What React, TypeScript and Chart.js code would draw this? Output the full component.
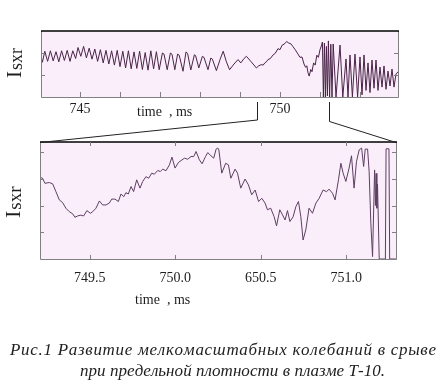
import React, { useEffect, useRef } from 'react';
import { Chart, registerables } from 'chart.js';
Chart.register(...registerables);

// ---------- data ----------
const topTime = [
  744.02, 744.06, 744.12, 744.19, 744.26, 744.33, 744.40, 744.47, 744.54, 744.61, 744.68, 744.75, 744.82, 744.89, 744.95,
  745.02, 745.09, 745.16, 745.23, 745.30, 745.37, 745.44, 745.51, 745.58, 745.65, 745.72, 745.79, 745.86, 745.93,
  746.00, 746.07, 746.14, 746.21, 746.28, 746.35, 746.42, 746.49, 746.56, 746.63, 746.70, 746.77, 746.84, 746.91, 746.98,
  747.06, 747.10, 747.18, 747.26, 747.30, 747.37, 747.44, 747.48, 747.575, 747.65, 747.69, 747.77, 747.86, 747.89, 747.97,
  748.06, 748.10, 748.20, 748.27, 748.31, 748.41, 748.50, 748.58, 748.66, 748.74, 748.85, 748.95,
  749.02, 749.10, 749.16, 749.28, 749.41, 749.47, 749.53, 749.58, 749.62, 749.66, 749.70, 749.76, 749.83, 749.88, 749.95,
  750.00, 750.05, 750.10, 750.17, 750.22, 750.27, 750.32, 750.38, 750.45, 750.50, 750.55, 750.60, 750.64, 750.67, 750.70,
  750.73, 750.77, 750.80, 750.84, 750.88, 750.92, 750.96, 751.00, 751.04, 751.06,
  751.085, 751.11, 751.135, 751.16, 751.185, 751.21, 751.24, 751.27, 751.30, 751.33, 751.40, 751.50, 751.57, 751.65,
  751.70, 751.75, 751.81, 751.875, 751.94, 752.00, 752.05, 752.10, 752.15, 752.20, 752.25, 752.30, 752.35, 752.40,
  752.45, 752.50, 752.55, 752.60, 752.65, 752.70, 752.75, 752.80, 752.85, 752.90, 752.95,
];
const topSignal = [
  1.90, 1.58, 2.08, 1.62, 2.10, 1.64, 2.06, 1.60, 2.10, 1.66, 2.12, 1.62, 2.10, 1.75, 2.25,
  1.85, 2.30, 1.78, 2.22, 1.72, 2.18, 1.62, 2.15, 1.55, 2.12, 1.50, 2.10, 1.45, 2.12,
  1.38, 2.08, 1.32, 2.10, 1.28, 2.05, 1.30, 2.08, 1.25, 2.02, 1.22, 2.10, 1.28, 2.06, 1.24,
  2.00, 1.95, 1.24, 2.00, 1.94, 1.24, 1.95, 1.90, 1.17, 2.05, 1.98, 1.23, 1.92, 1.88, 1.32,
  1.85, 1.80, 1.24, 1.77, 1.72, 1.20, 1.70, 2.08, 1.60, 1.24, 1.50, 1.70,
  1.55, 1.75, 1.85, 1.60, 1.32, 1.42, 1.47, 1.45, 1.55, 1.60, 1.70, 1.75, 1.92, 1.98, 2.20,
  2.15, 2.35, 2.40, 2.52, 2.45, 2.42, 2.30, 2.15, 1.95, 1.80, 1.82, 1.50, 1.35, 1.42, 1.10,
  0.95, 1.25, 1.15, 1.55, 1.45, 1.90, 1.80, 2.15, 2.36, 2.50,
  0.00, 2.45, 0.00, 2.30, 0.05, 2.55, 0.00, 2.40, 0.00, 2.41, 0.00, 2.36, 0.00, 1.73,
  0.00, 1.91, 0.00, 1.95, 0.00, 1.82, 0.10, 1.91, 0.30, 1.55, 0.20, 1.68, 0.40, 1.68,
  0.30, 1.36, 0.45, 1.41, 0.35, 1.18, 0.50, 1.27, 0.45, 1.05, 1.14,
];

const bottomTime = [
  749.206, 749.225, 749.239, 749.264, 749.284, 749.303, 749.323, 749.342, 749.361, 749.381, 749.401, 749.414, 749.430,
  749.449, 749.465, 749.484, 749.504, 749.518, 749.537, 749.557, 749.576, 749.595, 749.615, 749.629, 749.648, 749.668,
  749.683, 749.699, 749.712, 749.726, 749.742, 749.757, 749.775, 749.794, 749.810, 749.829, 749.845, 749.863, 749.878,
  749.898, 749.913, 749.927, 749.946, 749.966, 749.981, 749.999, 750.019, 750.034, 750.054, 750.073, 750.092, 750.108,
  750.122, 750.141, 750.157, 750.177, 750.190, 750.209, 750.225, 750.239, 750.249, 750.255, 750.272, 750.295, 750.311,
  750.325, 750.350, 750.364, 750.383, 750.408, 750.428, 750.447, 750.467, 750.487, 750.506, 750.525, 750.539, 750.558,
  750.578, 750.592, 750.611, 750.627, 750.642, 750.656, 750.670, 750.689, 750.705, 750.720, 750.734, 750.747, 750.763,
  750.782, 750.802, 750.822, 750.841, 750.864, 750.884, 750.899, 750.919, 750.934, 750.954, 750.968, 750.981, 750.997,
  751.016, 751.030, 751.045, 751.059, 751.075, 751.089, 751.101, 751.110, 751.124, 751.133, 751.143, 751.153, 751.165,
  751.170, 751.174, 751.178, 751.182, 751.192, 751.228, 751.232, 751.249, 751.253, 751.290,
];
const bottomSignal = [
  3.06, 3.02, 2.83, 2.86, 2.81, 2.52, 2.21, 2.11, 1.90, 1.77, 1.69, 1.56, 1.61,
  1.64, 1.61, 1.81, 1.71, 1.77, 1.90, 2.17, 2.02, 2.02, 2.09, 2.24, 2.24, 2.15,
  2.43, 2.33, 2.48, 2.43, 2.71, 2.52, 2.96, 2.65, 2.90, 3.08, 3.02, 3.21, 3.17,
  3.31, 3.27, 3.36, 3.30, 3.52, 3.81, 3.40, 3.61, 3.68, 3.77, 3.73, 3.83, 3.83,
  4.02, 3.71, 3.56, 3.83, 3.98, 3.86, 3.77, 4.11, 4.15, 4.08, 3.21, 3.58, 3.52,
  3.02, 3.36, 3.21, 2.65, 2.99, 2.77, 2.40, 2.58, 2.15, 2.27, 2.09, 1.84, 1.90,
  1.58, 1.24, 1.84, 1.65, 1.46, 1.81, 1.40, 1.58, 1.96, 2.15, 1.58, 0.71, 1.09,
  1.90, 1.71, 2.09, 2.27, 2.58, 2.52, 2.61, 2.46, 2.21, 2.96, 3.58, 3.21, 2.90,
  3.40, 3.86, 2.65, 3.64, 4.08, 4.15, 3.46, 4.11, 4.11, 3.27, 1.34, 0.09, 3.33,
  2.00, 3.20, 1.90, 2.80, 0.00, 0.00, 4.12, 4.12, 0.00, 0.00,
];

const topTickValues = [745, 746, 747, 748, 749, 750, 751, 752];
const topTickLabels = ['745', '', '', '', '', '750', '', ''];
const bottomTickValues = [749.5, 750.0, 750.5, 751.0];
const bottomTickLabels = ['749.5', '750.0', '650.5', '751.0'];
const topYTicks = [1, 2];
const bottomYTicks = [1, 2, 3, 4];
const zoomRange = [749.43, 751.23];
const axisTitle = 'time  , ms';
const yTitleMain = 'I';
const yTitleSub = 'sxr';
const captionLines = [
  'Рис.1 Развитие мелкомасштабных колебаний в срыве',
  'при предельной плотности в плазме Т-10.',
];

// ---------- styles ----------
const SERIF = '"Liberation Serif", "Times New Roman", serif';
const BG = '#fbeefb';
const FRAME = '#808080';
const TEXT = '#1e1e1e';

function drawFrame(ctx: CanvasRenderingContext2D, a: any) {
  ctx.save();
  ctx.lineWidth = 1;
  ctx.strokeStyle = FRAME;
  ctx.beginPath();
  ctx.moveTo(a.left + 0.5, a.top);
  ctx.lineTo(a.left + 0.5, a.bottom + 0.5);
  ctx.lineTo(a.right + 0.5, a.bottom + 0.5);
  ctx.lineTo(a.right + 0.5, a.top);
  ctx.stroke();
  ctx.strokeStyle = '#000';
  ctx.lineWidth = 1.6;
  ctx.beginPath();
  ctx.moveTo(a.left, a.top);
  ctx.lineTo(a.right + 1, a.top);
  ctx.stroke();
  ctx.restore();
}

function drawYLabel(ctx: CanvasRenderingContext2D, x: number, y: number, s1: number, s2: number) {
  ctx.save();
  ctx.translate(x, y);
  ctx.rotate(-Math.PI / 2);
  ctx.fillStyle = TEXT;
  ctx.textBaseline = 'alphabetic';
  ctx.textAlign = 'left';
  ctx.font = `${s1}px ${SERIF}`;
  ctx.fillText(yTitleMain, 0, 0);
  const w = ctx.measureText(yTitleMain).width;
  ctx.font = `${s2}px ${SERIF}`;
  ctx.fillText(yTitleSub, w + 1, 1);
  ctx.restore();
}

const topPlugin = {
  id: 'topDecor',
  beforeDraw(chart: any) {
    const { ctx, chartArea: a } = chart;
    ctx.save();
    ctx.fillStyle = BG;
    ctx.fillRect(a.left, a.top, a.right - a.left, a.bottom - a.top);
    ctx.restore();
  },
  afterDraw(chart: any) {
    const { ctx, chartArea: a, scales } = chart;
    drawFrame(ctx, a);
    ctx.save();
    ctx.strokeStyle = FRAME;
    ctx.lineWidth = 1;
    ctx.beginPath();
    scales.x.ticks.forEach((t: any) => {
      const px = Math.round(scales.x.getPixelForValue(t.value)) + 0.5;
      ctx.moveTo(px, a.bottom);
      ctx.lineTo(px, a.bottom - 5);
    });
    topYTicks.forEach((v) => {
      const py = Math.round(scales.y.getPixelForValue(v)) + 0.5;
      ctx.moveTo(a.left, py);
      ctx.lineTo(a.left + 4, py);
      ctx.moveTo(a.right, py);
      ctx.lineTo(a.right - 4, py);
    });
    ctx.stroke();
    // callout lines to the zoomed panel
    ctx.strokeStyle = '#222';
    const xa = Math.round(scales.x.getPixelForValue(zoomRange[0])) + 0.5;
    const xb = Math.round(scales.x.getPixelForValue(zoomRange[1])) + 0.5;
    ctx.beginPath();
    ctx.moveTo(xa, a.bottom + 5);
    ctx.lineTo(xa, a.bottom + 23);
    ctx.lineTo(40, 142.5);
    ctx.moveTo(xb, a.bottom + 5);
    ctx.lineTo(xb, a.bottom + 24.5);
    ctx.lineTo(396, 142.5);
    ctx.stroke();
    // texts
    ctx.fillStyle = TEXT;
    ctx.font = `14px ${SERIF}`;
    ctx.textBaseline = 'alphabetic';
    ctx.fillText(axisTitle, 137, 116);
    ctx.restore();
    drawYLabel(ctx, 21, 78, 21, 18);
  },
};

const bottomPlugin = {
  id: 'bottomDecor',
  beforeDraw(chart: any) {
    const { ctx, chartArea: a } = chart;
    ctx.save();
    ctx.fillStyle = BG;
    ctx.fillRect(a.left, a.top, a.right - a.left, a.bottom - a.top);
    ctx.restore();
  },
  afterDraw(chart: any) {
    const { ctx, chartArea: a, scales } = chart;
    drawFrame(ctx, a);
    ctx.save();
    ctx.strokeStyle = FRAME;
    ctx.lineWidth = 1;
    ctx.beginPath();
    scales.x.ticks.forEach((t: any) => {
      const px = Math.round(scales.x.getPixelForValue(t.value)) + 0.5;
      ctx.moveTo(px, a.bottom);
      ctx.lineTo(px, a.bottom - 4);
      ctx.moveTo(px, a.top);
      ctx.lineTo(px, a.top + 4);
    });
    bottomYTicks.forEach((v) => {
      const py = Math.round(scales.y.getPixelForValue(v)) + 0.5;
      ctx.moveTo(a.left, py);
      ctx.lineTo(a.left + 4, py);
      ctx.moveTo(a.right, py);
      ctx.lineTo(a.right - 4, py);
    });
    ctx.stroke();
    ctx.fillStyle = TEXT;
    ctx.font = `14px ${SERIF}`;
    ctx.textBaseline = 'alphabetic';
    ctx.fillText(axisTitle, 135, 174);
    // caption, spread to the reference widths
    ctx.font = `italic 17px ${SERIF}`;
    const spans = [
      [10, 436, 225],
      [80, 385, 246],
    ];
    captionLines.forEach((line, i) => {
      const [x0, x1, yb] = spans[i];
      const chars = Array.from(line);
      const widths = chars.map((c) => ctx.measureText(c).width);
      const total = widths.reduce((s, w) => s + w, 0);
      const gap = (x1 - x0 - total) / (chars.length - 1);
      let x = x0;
      chars.forEach((c, k) => {
        ctx.fillText(c, x, yb);
        x += widths[k] + gap;
      });
    });
    ctx.restore();
    drawYLabel(ctx, 20, 88, 22, 19);
  },
};

function makeConfig(
  times: number[],
  values: number[],
  xmin: number,
  xmax: number,
  ymax: number,
  tickValues: number[],
  tickLabels: string[],
  padding: any,
  xHeight: number,
  labelPad: number,
  color: string,
  plugin: any
): any {
  return {
    type: 'line',
    data: {
      datasets: [
        {
          data: times.map((t, i) => ({ x: t, y: values[i] })),
          borderColor: color,
          borderWidth: 1,
          pointRadius: 0,
          tension: 0,
          fill: false,
        },
      ],
    },
    options: {
      animation: false,
      responsive: false,
      events: [],
      layout: { padding },
      plugins: { legend: { display: false }, tooltip: { enabled: false } },
      scales: {
        x: {
          type: 'linear',
          min: xmin,
          max: xmax,
          afterBuildTicks: (s: any) => {
            s.ticks = tickValues.map((v) => ({ value: v }));
          },
          afterFit: (s: any) => {
            s.height = xHeight;
          },
          grid: { display: false, drawTicks: false, tickLength: 0 },
          border: { display: false },
          ticks: {
            autoSkip: false,
            maxRotation: 0,
            padding: labelPad,
            color: TEXT,
            font: { family: SERIF, size: 14 },
            callback: (_v: any, i: number) => tickLabels[i],
          },
        },
        y: { type: 'linear', min: 0, max: ymax, display: false },
      },
    },
    plugins: [plugin],
  };
}

export default function App() {
  const topRef = useRef<HTMLCanvasElement>(null);
  const botRef = useRef<HTMLCanvasElement>(null);
  useEffect(() => {
    const c1 = new Chart(
      topRef.current as HTMLCanvasElement,
      makeConfig(topTime, topSignal, 744.025, 752.95, 3, topTickValues, topTickLabels,
        { left: 41, right: 48, top: 31, bottom: 0 }, 49, 4, '#4a2448', topPlugin)
    );
    const c2 = new Chart(
      botRef.current as HTMLCanvasElement,
      makeConfig(bottomTime, bottomSignal, 749.21, 751.29, 4.375, bottomTickValues, bottomTickLabels,
        { left: 40, right: 50, top: 12, bottom: 0 }, 129, 11, '#5e3f62', bottomPlugin)
    );
    return () => {
      c1.destroy();
      c2.destroy();
    };
  }, []);
  return (
    <div style={{ position: 'absolute', left: 0, top: 0, width: 446, height: 388, background: '#fff' }}>
      <canvas ref={botRef} width={446} height={258} style={{ position: 'absolute', left: 0, top: 130 }} />
      <canvas ref={topRef} width={446} height={146} style={{ position: 'absolute', left: 0, top: 0 }} />
    </div>
  );
}
